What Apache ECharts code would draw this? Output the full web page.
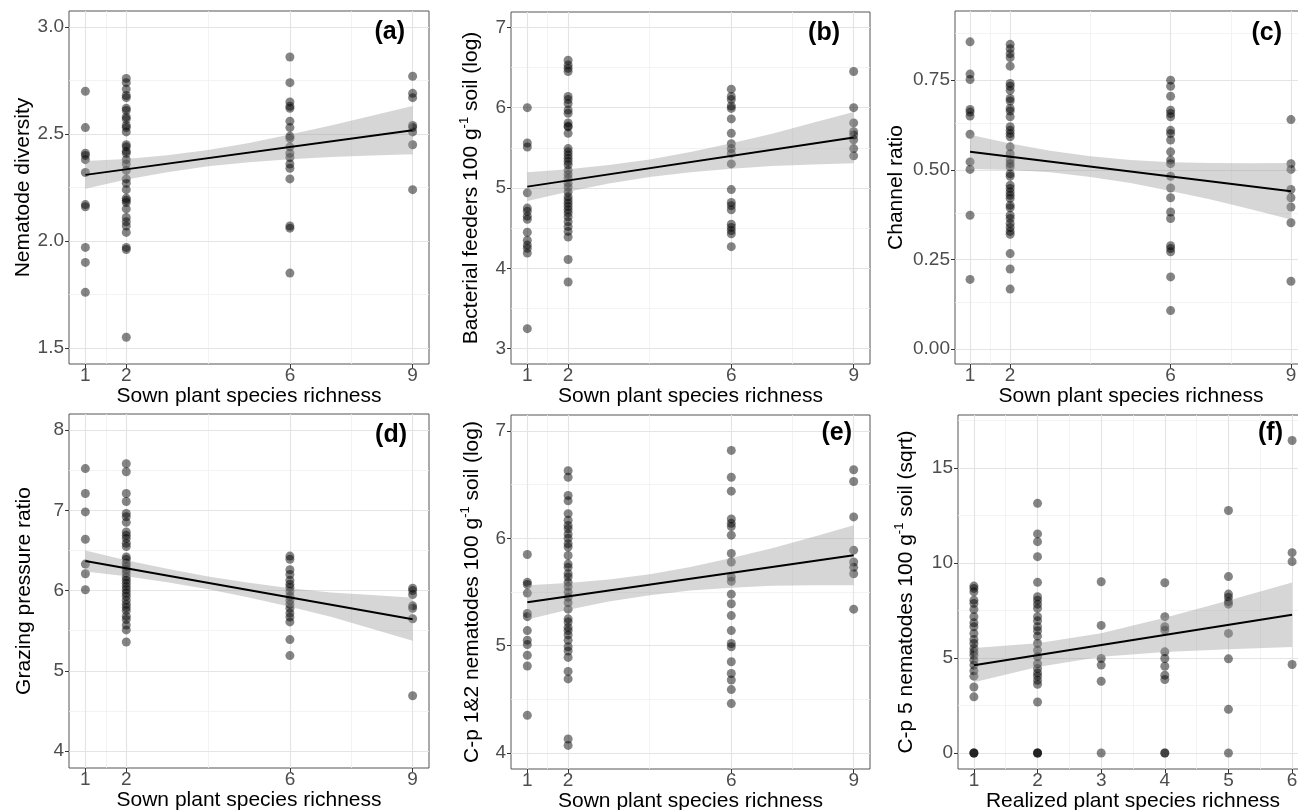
<!DOCTYPE html>
<html>
<head>
<meta charset="utf-8">
<script src="https://cdn.jsdelivr.net/npm/echarts@6/dist/echarts.min.js"></script>
<style>
  html, body { margin: 0; padding: 0; background: #fff; }
  #chart { width: 1298px; height: 810px; }
</style>
</head>
<body>
<div id="chart"></div>
<script>
// tick values
const sownTicks = [1, 2, 6, 9]
const sownMinor = [1.5, 4, 7.5]
const realizedTicks = [1, 2, 3, 4, 5, 6]
const realizedMinor = [1.5, 2.5, 3.5, 4.5, 5.5]

// (a) Nematode diversity, points grouped by sown richness
const diversityPts = [
  [1, [2.70, 2.53, 2.41, 2.40, 2.38, 2.32, 2.17, 2.16, 1.97, 1.90, 1.76]],
  [2, [2.76, 2.74, 2.71, 2.68, 2.67, 2.62, 2.61, 2.58, 2.57, 2.54, 2.53, 2.51, 2.45, 2.44, 2.42, 2.41, 2.38,
       2.36, 2.33, 2.29, 2.27, 2.24, 2.20, 2.19, 2.18, 2.15, 2.11, 2.09, 2.07, 2.04, 1.97, 1.96, 1.55]],
  [6, [2.86, 2.74, 2.65, 2.63, 2.62, 2.56, 2.53, 2.49, 2.48, 2.44, 2.41, 2.39, 2.36, 2.34, 2.29, 2.07, 2.06, 1.85]],
  [9, [2.77, 2.69, 2.67, 2.54, 2.53, 2.51, 2.45, 2.24]]
]
const diversityFit = [[1, 2.309], [9, 2.518]]
const diversityBand = [
  [1, 2.244, 2.374], [2, 2.287, 2.383], [3, 2.321, 2.401], [4, 2.349, 2.425], [5, 2.368, 2.458],
  [6, 2.382, 2.498], [7, 2.392, 2.540], [8, 2.399, 2.585], [9, 2.405, 2.631]
]
const diversityTicks = [1.5, 2.0, 2.5, 3.0]
const diversityMinor = [1.75, 2.25, 2.75]

// (b) Bacterial feeders
const bactPts = [
  [1, [6.00, 5.56, 5.51, 4.94, 4.75, 4.71, 4.65, 4.61, 4.45, 4.35, 4.29, 4.25, 4.19, 3.25]],
  [2, [6.59, 6.53, 6.49, 6.45, 6.14, 6.10, 6.05, 5.97, 5.93, 5.81, 5.77, 5.76, 5.68, 5.49, 5.45, 5.41, 5.37, 5.33,
       5.29, 5.22, 5.17, 5.12, 5.06, 5.01, 4.95, 4.89, 4.85, 4.81, 4.77, 4.73, 4.69, 4.64, 4.58, 4.52, 4.46, 4.39,
       4.11, 3.83]],
  [6, [6.23, 6.14, 6.10, 6.02, 5.99, 5.86, 5.68, 5.55, 5.49, 5.43, 5.30, 4.98, 4.82, 4.78, 4.73, 4.55, 4.51, 4.47,
       4.43, 4.27]],
  [9, [6.45, 6.00, 5.81, 5.70, 5.66, 5.60, 5.49, 5.40]]
]
const bactFit = [[1, 5.017], [9, 5.627]]
const bactBand = [
  [1, 4.837, 5.197], [2, 4.953, 5.233], [3, 5.055, 5.285], [4, 5.136, 5.356], [5, 5.197, 5.447],
  [6, 5.238, 5.558], [7, 5.275, 5.675], [8, 5.291, 5.811], [9, 5.307, 5.947]
]
const bactTicks = [3, 4, 5, 6, 7]
const bactMinor = [3.5, 4.5, 5.5, 6.5]

// (c) Channel ratio
const channelPts = [
  [1, [0.857, 0.767, 0.752, 0.668, 0.661, 0.650, 0.599, 0.522, 0.501, 0.373, 0.194]],
  [2, [0.850, 0.838, 0.824, 0.813, 0.789, 0.741, 0.733, 0.722, 0.699, 0.692, 0.671, 0.664, 0.648, 0.620, 0.610,
       0.601, 0.592, 0.564, 0.545, 0.527, 0.517, 0.508, 0.489, 0.482, 0.457, 0.448, 0.438, 0.429, 0.420, 0.401,
       0.394, 0.373, 0.364, 0.350, 0.339, 0.328, 0.320, 0.266, 0.223, 0.167]],
  [6, [0.750, 0.733, 0.705, 0.666, 0.657, 0.648, 0.610, 0.601, 0.583, 0.550, 0.527, 0.517, 0.482, 0.449, 0.422,
       0.382, 0.364, 0.288, 0.280, 0.271, 0.201, 0.107]],
  [9, [0.640, 0.517, 0.501, 0.445, 0.422, 0.396, 0.352, 0.189]]
]
const channelFit = [[1, 0.550], [9, 0.440]]
const channelBand = [
  [1, 0.502, 0.598], [2, 0.499, 0.573], [3, 0.493, 0.553], [4, 0.480, 0.538], [5, 0.463, 0.527],
  [6, 0.441, 0.521], [7, 0.417, 0.519], [8, 0.390, 0.518], [9, 0.361, 0.519]
]
const channelTicks = [0, 0.25, 0.5, 0.75]
const channelMinor = [0.125, 0.375, 0.625, 0.875]

// (d) Grazing pressure ratio
const grazingPts = [
  [1, [7.52, 7.21, 6.98, 6.64, 6.33, 6.21, 6.01]],
  [2, [7.58, 7.48, 7.21, 7.11, 6.96, 6.92, 6.85, 6.73, 6.69, 6.65, 6.59, 6.55, 6.42, 6.39, 6.34, 6.30, 6.26, 6.22,
       6.17, 6.13, 6.09, 6.05, 6.01, 5.97, 5.93, 5.88, 5.83, 5.79, 5.75, 5.68, 5.64, 5.57, 5.51, 5.36]],
  [6, [6.43, 6.39, 6.26, 6.20, 6.13, 6.08, 6.04, 5.99, 5.93, 5.88, 5.83, 5.78, 5.72, 5.67, 5.61, 5.39, 5.19]],
  [9, [6.03, 6.00, 5.95, 5.81, 5.78, 5.65, 4.69]]
]
const grazingFit = [[1, 6.369], [9, 5.643]]
const grazingBand = [
  [1, 6.238, 6.500], [2, 6.178, 6.378], [3, 6.105, 6.271], [4, 6.017, 6.177], [5, 5.914, 6.098],
  [6, 5.800, 6.030], [7, 5.675, 5.975], [8, 5.524, 5.944], [9, 5.375, 5.911]
]
const grazingTicks = [4, 5, 6, 7, 8]
const grazingMinor = [4.5, 5.5, 6.5, 7.5]

// (e) C-p 1&2 nematodes
const cp12Pts = [
  [1, [5.85, 5.59, 5.57, 5.49, 5.30, 5.27, 5.14, 5.05, 5.01, 4.91, 4.81, 4.35]],
  [2, [6.63, 6.57, 6.40, 6.35, 6.23, 6.17, 6.12, 6.09, 6.04, 6.00, 5.95, 5.92, 5.84, 5.76, 5.73, 5.67, 5.64, 5.59,
       5.55, 5.50, 5.45, 5.40, 5.34, 5.25, 5.22, 5.17, 5.14, 5.10, 5.05, 4.99, 4.95, 4.89, 4.76, 4.69, 4.13, 4.07]],
  [6, [6.82, 6.57, 6.44, 6.18, 6.14, 6.11, 6.03, 5.86, 5.78, 5.64, 5.60, 5.48, 5.39, 5.28, 5.14, 5.02, 4.99, 4.85,
       4.74, 4.68, 4.59, 4.46]],
  [9, [6.64, 6.53, 6.20, 5.89, 5.78, 5.73, 5.67, 5.34]]
]
const cp12Fit = [[1, 5.404], [9, 5.842]]
const cp12Band = [
  [1, 5.244, 5.564], [2, 5.334, 5.584], [3, 5.411, 5.617], [4, 5.470, 5.666], [5, 5.513, 5.733],
  [6, 5.540, 5.816], [7, 5.558, 5.908], [8, 5.562, 6.012], [9, 5.562, 6.122]
]
const cp12Ticks = [4, 5, 6, 7]
const cp12Minor = [4.5, 5.5, 6.5]

// (f) C-p 5 nematodes vs realized richness
const cp5Pts = [
  [1, [8.79, 8.67, 8.49, 8.05, 7.88, 7.56, 7.18, 6.86, 6.65, 6.30, 5.98, 5.77, 5.51, 5.33, 5.15, 4.89, 4.63, 4.33,
       4.05, 3.48, 2.96, 0, 0, 0]],
  [2, [13.15, 11.54, 11.13, 10.34, 8.99, 8.23, 8.05, 7.84, 7.62, 7.18, 6.96, 6.65, 6.44, 6.16, 5.77, 5.42, 5.07,
       4.71, 4.45, 4.22, 4.05, 3.83, 3.62, 2.69, 0, 0, 0]],
  [3, [9.02, 6.72, 4.98, 4.63, 3.78, 0]],
  [4, [8.97, 7.18, 6.65, 6.47, 5.33, 4.98, 4.57, 4.10, 3.87, 0, 0]],
  [5, [12.77, 9.29, 8.37, 8.20, 7.97, 7.84, 6.30, 4.96, 2.30, 0]],
  [6, [16.46, 10.55, 10.08, 4.66]]
]
const cp5Fit = [[1, 4.626], [6, 7.281]]
const cp5Band = [
  [1, 3.726, 5.526], [2, 4.537, 5.777], [3, 5.068, 6.308], [4, 5.319, 7.119], [5, 5.470, 8.030], [6, 5.581, 8.981]
]
const cp5Ticks = [0, 5, 10, 15]
const cp5Minor = [2.5, 7.5, 12.5, 17.5]

const FONT = '"Liberation Sans", Arial, sans-serif'
const sownTitle = 'Sown plant species richness'

// 每个面板的布局和配置
const panels = [
  { label: '(a)', pts: diversityPts, fit: diversityFit, band: diversityBand,
    xTicks: sownTicks, xMinor: sownMinor, xMin: 0.6, xMax: 9.4,
    yTicks: diversityTicks, yMinor: diversityMinor, yMin: 1.425, yMax: 3.075, dec: 1,
    xName: sownTitle, yName: 'Nematode diversity', yGap: 34,
    grid: { left: 69, top: 11, width: 360, height: 353 }, lab: [405, 32] },
  { label: '(b)', pts: bactPts, fit: bactFit, band: bactBand,
    xTicks: sownTicks, xMinor: sownMinor, xMin: 0.6, xMax: 9.4,
    yTicks: bactTicks, yMinor: bactMinor, yMin: 2.81, yMax: 7.19, dec: 0,
    xName: sownTitle, yName: '{t|Bacterial feeders 100 g}{s|-1}{t| soil (log)}', yGap: 27,
    grid: { left: 511, top: 12, width: 359, height: 352 }, lab: [840, 33] },
  { label: '(c)', pts: channelPts, fit: channelFit, band: channelBand,
    xTicks: sownTicks, xMinor: sownMinor, xMin: 0.625, xMax: 9.4,
    yTicks: channelTicks, yMinor: channelMinor, yMin: -0.042, yMax: 0.943, dec: 2,
    xName: sownTitle, yName: 'Channel ratio', yGap: 48,
    grid: { left: 955, top: 11, width: 352, height: 353 }, lab: [1282, 33] },
  { label: '(d)', pts: grazingPts, fit: grazingFit, band: grazingBand,
    xTicks: sownTicks, xMinor: sownMinor, xMin: 0.6, xMax: 9.4,
    yTicks: grazingTicks, yMinor: grazingMinor, yMin: 3.79, yMax: 8.2, dec: 0,
    xName: sownTitle, yName: 'Grazing pressure ratio', yGap: 34,
    grid: { left: 69, top: 414, width: 360, height: 354 }, lab: [407, 435] },
  { label: '(e)', pts: cp12Pts, fit: cp12Fit, band: cp12Band,
    xTicks: sownTicks, xMinor: sownMinor, xMin: 0.6, xMax: 9.4,
    yTicks: cp12Ticks, yMinor: cp12Minor, yMin: 3.85, yMax: 7.15, dec: 0,
    xName: sownTitle, yName: '{t|C-p 1&2 nematodes 100 g}{s|-1}{t| soil (log)}', yGap: 26,
    grid: { left: 511, top: 415, width: 359, height: 354 }, lab: [852, 433] },
  { label: '(f)', pts: cp5Pts, fit: cp5Fit, band: cp5Band,
    xTicks: realizedTicks, xMinor: realizedMinor, xMin: 0.75, xMax: 6.25,
    yTicks: cp5Ticks, yMinor: cp5Minor, yMin: -0.84, yMax: 17.8, dec: 0,
    xName: 'Realized plant species richness', yName: '{t|C-p 5 nematodes 100 g}{s|-1}{t| soil (sqrt)}', yGap: 39,
    grid: { left: 958, top: 415, width: 350, height: 354 }, lab: [1283, 433] }
]

const richTitle = {
  t: { fontSize: 21, fontFamily: FONT, color: '#000', lineHeight: 26 },
  s: { fontSize: 13, fontFamily: FONT, color: '#000', lineHeight: 13, verticalAlign: 'top' }
}

function gridLines(p) {
  const major = { color: '#e4e4e4', width: 1.2, type: 'solid' }
  const minor = { color: '#f0f0f0', width: 0.8, type: 'solid' }
  const items = []
  p.xMinor.forEach(v => items.push({ xAxis: v, lineStyle: minor }))
  p.yMinor.forEach(v => { if (v > p.yMin && v < p.yMax) items.push({ yAxis: v, lineStyle: minor }) })
  p.xTicks.forEach(v => items.push({ xAxis: v, lineStyle: major }))
  p.yTicks.forEach(v => items.push({ yAxis: v, lineStyle: major }))
  return items
}

const grids = [], xAxes = [], yAxes = [], series = [], graphics = []

panels.forEach((p, i) => {
  grids.push(Object.assign({
    show: true, borderColor: '#555', borderWidth: 1, backgroundColor: '#fff',
    containLabel: false, outerBoundsMode: 'none'
  }, p.grid))

  xAxes.push({
    gridIndex: i, type: 'value', min: p.xMin, max: p.xMax,
    axisLine: { show: false, onZero: false },
    axisTick: { show: true, length: 4, lineStyle: { color: '#333' }, customValues: p.xTicks },
    axisLabel: { customValues: p.xTicks, color: '#4d4d4d', fontSize: 19, fontFamily: FONT, margin: 2 },
    splitLine: { show: false },
    name: p.xName, nameLocation: 'middle', nameGap: 18,
    nameTextStyle: { fontSize: 21, fontFamily: FONT, color: '#000' }
  })

  yAxes.push({
    gridIndex: i, type: 'value', min: p.yMin, max: p.yMax,
    axisLine: { show: false, onZero: false },
    axisTick: { show: true, length: 4, lineStyle: { color: '#333' }, customValues: p.yTicks },
    axisLabel: {
      customValues: p.yTicks, color: '#4d4d4d', fontSize: 19, fontFamily: FONT, margin: 5,
      formatter: v => v.toFixed(p.dec)
    },
    splitLine: { show: false },
    name: p.yName, nameLocation: 'middle', nameGap: p.yGap,
    nameTextStyle: { fontSize: 21, fontFamily: FONT, color: '#000', rich: richTitle }
  })

  // 网格线
  series.push({
    type: 'line', xAxisIndex: i, yAxisIndex: i, data: [], silent: true,
    markLine: {
      silent: true, z: 0, symbol: ['none', 'none'], animation: false,
      label: { show: false }, emphasis: { disabled: true },
      data: gridLines(p)
    }
  })

  series.push({
    type: 'scatter', xAxisIndex: i, yAxisIndex: i, z: 1, silent: true,
    symbolSize: 9,
    itemStyle: { color: 'rgba(0,0,0,0.6)' },
    data: p.pts.flatMap(([x, ys]) => ys.map(y => [x, y]))
  })

  // 置信区间 (drawn over the points, like geom_smooth)
  const band = p.band
  series.push({
    type: 'custom', xAxisIndex: i, yAxisIndex: i, silent: true, z: 2,
    data: [[band[0][0], band[0][1]]],
    renderItem: (params, api) => {
      const upper = band.map(d => api.coord([d[0], d[2]]))
      const lower = band.slice().reverse().map(d => api.coord([d[0], d[1]]))
      return {
        type: 'polygon',
        shape: { points: upper.concat(lower) },
        style: { fill: 'rgba(153,153,153,0.4)' }
      }
    }
  })

  series.push({
    type: 'line', xAxisIndex: i, yAxisIndex: i, z: 3, silent: true,
    data: p.fit, symbol: 'none',
    lineStyle: { color: '#000', width: 2 }
  })

  graphics.push({
    type: 'text', x: p.lab[0], y: p.lab[1], z: 10,
    style: {
      text: p.label, fill: '#000', font: 'bold 25px ' + FONT,
      textAlign: 'right', textVerticalAlign: 'middle'
    }
  })
})

const chart = echarts.init(document.getElementById('chart'))
chart.setOption({
  animation: false,
  backgroundColor: '#fff',
  grid: grids,
  xAxis: xAxes,
  yAxis: yAxes,
  series: series,
  graphic: graphics
})
</script>
</body>
</html>
